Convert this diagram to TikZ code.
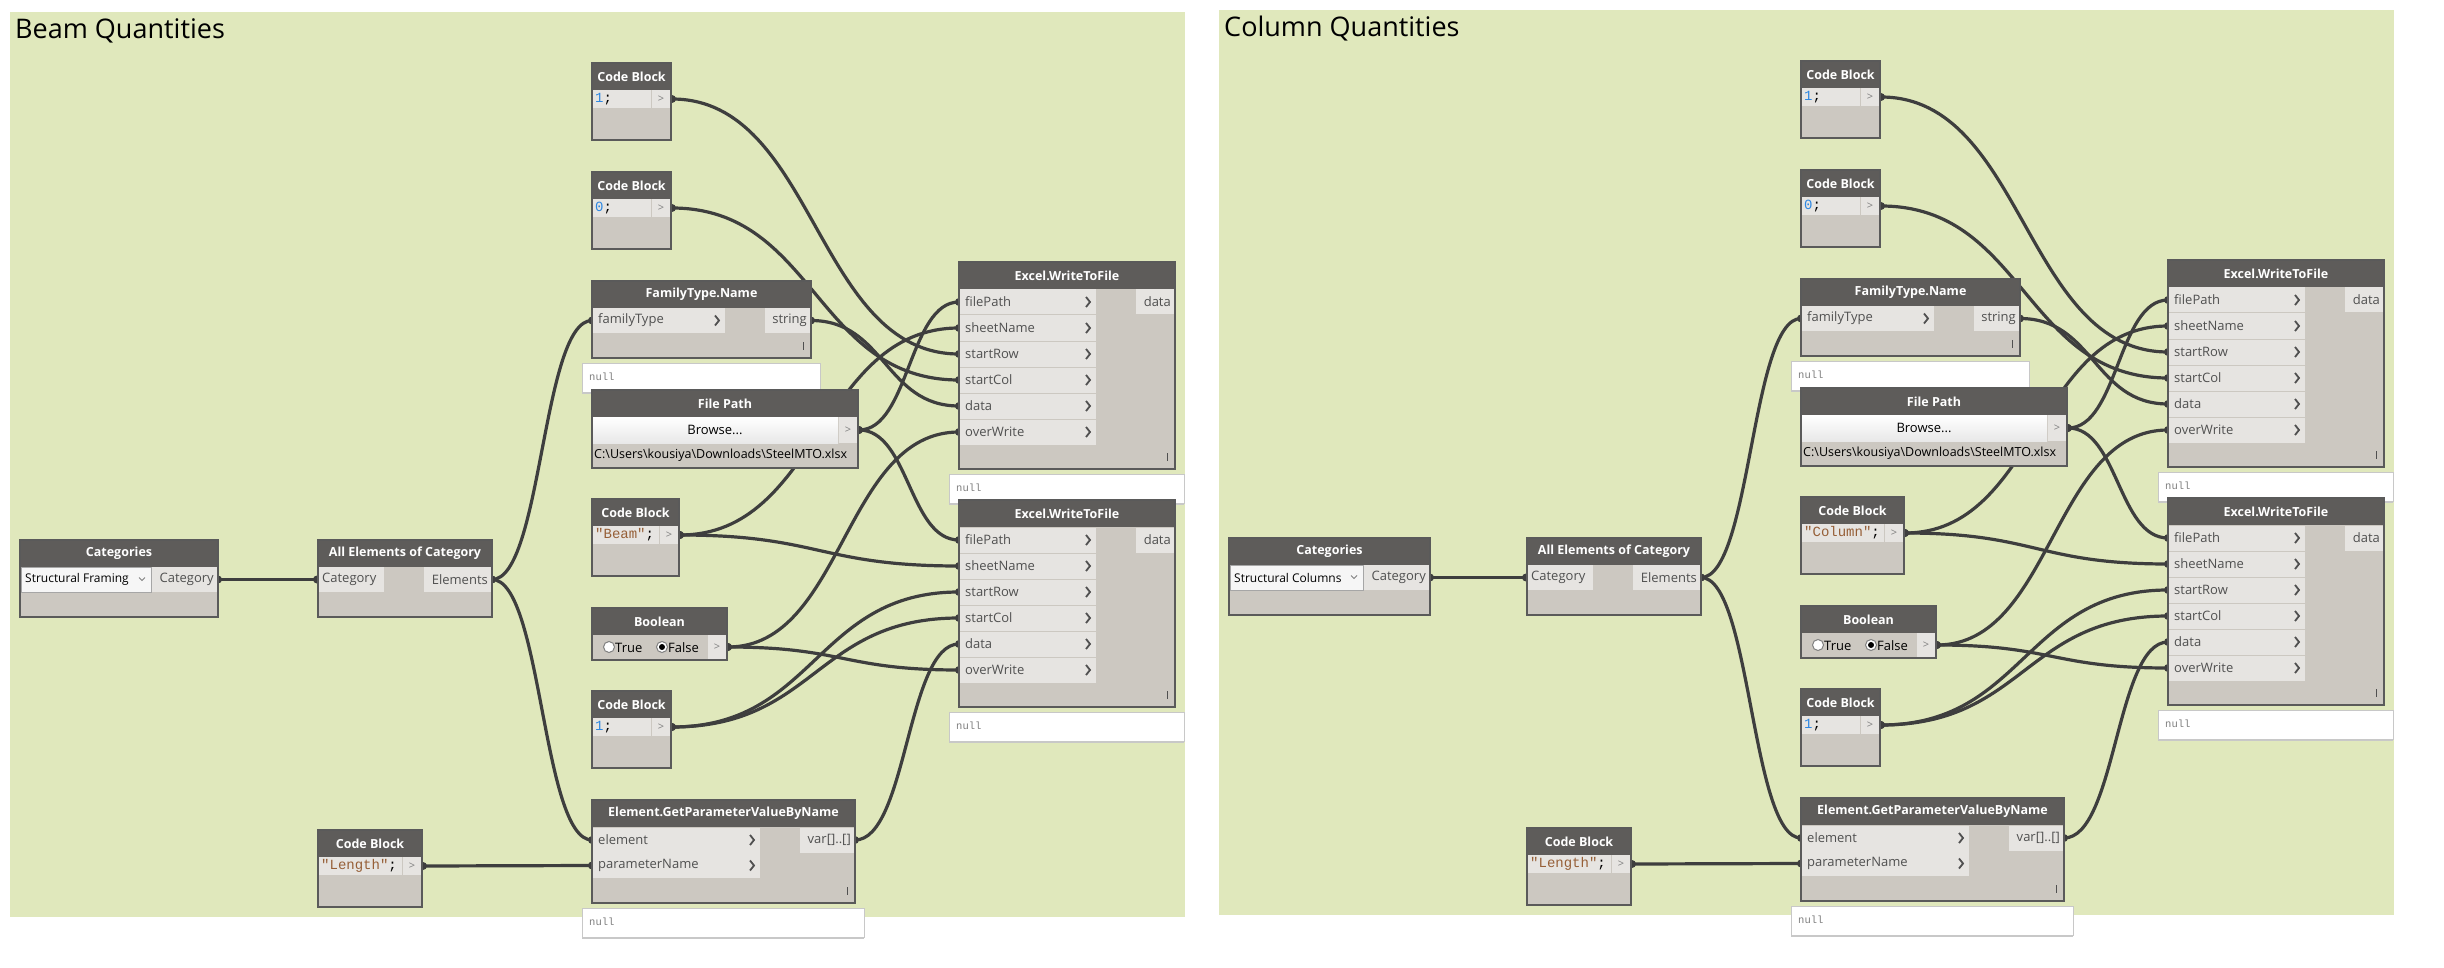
\documentclass[tikz,border=0pt]{standalone}
\usepackage{fontspec}
\setmainfont{Open Sans}
\setmonofont{Liberation Mono}
\usetikzlibrary{calc}

\definecolor{grpgreen}{RGB}{224,232,188}
\definecolor{hdrgray}{RGB}{94,92,90}
\definecolor{bodygray}{RGB}{204,200,193}
\definecolor{cellgray}{RGB}{230,228,225}
\definecolor{framegray}{RGB}{90,90,90}
\definecolor{wiregray}{RGB}{62,62,62}
\definecolor{lblgray}{RGB}{80,80,80}
\definecolor{numblue}{RGB}{45,135,225}
\definecolor{strbrown}{RGB}{150,95,55}
\definecolor{nullborder}{RGB}{200,200,200}

\pgfdeclarelayer{bg}
\pgfdeclarelayer{wires}
\pgfsetlayers{bg,wires,main}

\tikzset{
  grptitle/.style={text=black, font=\fontsize{27}{30}\selectfont, inner sep=0pt},
  hdrtxt/.style={text=white, font=\fontsize{12.5}{14}\selectfont\bfseries, inner sep=0pt},
  lbl/.style={text=lblgray, font=\fontsize{13}{15}\selectfont, inner sep=0pt},
  blacktxt/.style={text=black, font=\fontsize{13}{15}\selectfont, inner sep=0pt},
  droptxt/.style={text=black, font=\fontsize{12}{14}\selectfont, inner sep=0pt},
  code/.style={text=black, font=\fontsize{14}{16}\selectfont\ttfamily, inner sep=0pt},
  nulltxt/.style={text=gray, font=\fontsize{10.5}{12}\selectfont\ttfamily, inner sep=0pt},
  gt/.style={text=gray, font=\fontsize{11}{12}\selectfont, inner sep=0pt},
  nodeframe/.style={draw=framegray, line width=1.5pt},
  chev/.style={draw=lblgray, line width=1.8pt},
  wire/.style={draw=wiregray, line width=3.2pt},
  gripline/.style={draw=lblgray, line width=1pt},
  dropbox/.style={fill=white!93!gray, draw=gray!70, line width=1pt},
  radio/.style={fill=white, draw=gray, line width=1pt}
}

% one Dynamo node: name, x1, x2, top, bottom, title
\newcommand\dynnode[6]{%
  \fill[bodygray] (#2,#4) rectangle (#3,#5);
  \fill[hdrgray] (#2,#4) rectangle (#3,#4+27);
  \node[hdrtxt] (#1) at ({(#2+#3)/2},#4+13.5) {#6};
  \draw[nodeframe] (#2,#4) rectangle (#3,#5);
}
% input port: name, x1, x2, y, label
\newcommand\inport[5]{%
  \fill[cellgray] (#2,#4-12.5) rectangle (#3,#4+12.5);
  \node[lbl, anchor=west] at (#2+5,#4) {#5};
  \draw[chev] (#3-10,#4-5) -- (#3-6,#4) -- (#3-10,#4+5);
  \coordinate (#1) at (#2-1,#4);
}
% output port: name, x1, x2, y, label
\newcommand\outport[5]{%
  \fill[cellgray] (#2,#4-12.5) rectangle (#3,#4+12.5);
  \node[lbl, anchor=east] at (#3-3,#4) {#5};
  \coordinate (#1) at (#3+1,#4);
}
% code block: name, x1, x2, top, code
\newcommand\codeblock[5]{%
  \dynnode{#1}{#2}{#3}{#4}{#4+77}{Code Block}
  \fill[cellgray] (#2+1,#4+27) rectangle (#3-20,#4+45);
  \fill[cellgray] (#3-19,#4+27) rectangle (#3-1,#4+45);
  \node[code, anchor=west] at (#2+3,#4+36) {#5};
  \node[gt] at (#3-10,#4+36) {>};
  \coordinate (#1-out) at (#3+1,#4+36);
}
% preview bubble: name, x1, x2, top
\newcommand\nullbox[4]{%
  \filldraw[fill=white, draw=nullborder, line width=1pt] (#2,#4) rectangle (#3,#4+29);
  \draw[nullborder, line width=2pt] (#2,#4+30) -- (#3,#4+30);
  \node[nulltxt, anchor=west] (#1) at (#2+7,#4+14) {null};
}
\newcommand\grip[2]{\draw[gripline] (#1,#2-8) -- (#1,#2);}
% Excel.WriteToFile: name, top
\newcommand\excelnode[2]{%
  \dynnode{#1}{959}{1175}{#2}{#2+207}{Excel.WriteToFile}
  \inport{#1-fp}{960}{1096}{#2+40}{filePath}
  \inport{#1-sn}{960}{1096}{#2+66}{sheetName}
  \inport{#1-sr}{960}{1096}{#2+92}{startRow}
  \inport{#1-sc}{960}{1096}{#2+118}{startCol}
  \inport{#1-dt}{960}{1096}{#2+144}{data}
  \inport{#1-ow}{960}{1096}{#2+170}{overWrite}
  \outport{#1-out}{1136}{1174}{#2+40}{data}
  \grip{1167}{#2+199}
}
% connector with horizontal tangents
\newcommand\wire[2]{%
  \draw[wire] let \p1=(#1), \p2=(#2), \n1={0.5*(\x2-\x1)} in
    (#1) .. controls +(\n1,0) and +(-\n1,0) .. (#2);
  \fill[wiregray] (#1) circle[radius=4pt];
  \fill[wiregray] (#2) circle[radius=4pt];
}

% one group: prefix, shift, title, category, dropdown right, categories right, sheet code, sheet block right
\newcommand\quantgroup[8]{%
  \begin{scope}[shift={(#2)}]
    \begin{pgfonlayer}{bg}
      \fill[grpgreen] (10,12) rectangle (1185,917);
    \end{pgfonlayer}
    \node[grptitle, anchor=base west] (#1title) at (15,39) {#3};
    % Categories
    \dynnode{#1cat}{20}{#6}{540}{617}{Categories}
    \filldraw[dropbox] (21,567) rectangle (#5,592);
    \node[droptxt, anchor=west] at (25,579.5) {#4};
    \draw[gray, line width=0.8pt] (#5-12,577.5) -- (#5-9,580.5) -- (#5-6,577.5);
    \outport{#1cat-out}{#5+1}{#6-1}{579.5}{Category}
    % All Elements of Category
    \dynnode{#1all}{318}{492}{540}{617}{All Elements of Category}
    \fill[cellgray] (319,567) rectangle (384,592);
    \node[lbl, anchor=west] at (322,579.5) {Category};
    \coordinate (#1all-in) at (317,579.5);
    \outport{#1all-out}{424}{491}{579.5}{Elements}
    % code blocks
    \codeblock{#1cbA}{592}{671}{63}{{\color{numblue}1};}
    \codeblock{#1cbB}{592}{671}{172}{{\color{numblue}0};}
    \codeblock{#1cbS}{592}{#8}{499}{{\color{strbrown}"#7"};}
    \codeblock{#1cbR}{592}{671}{691}{{\color{numblue}1};}
    \codeblock{#1cbL}{318}{422}{830}{{\color{strbrown}"Length"};}
    % FamilyType.Name
    \dynnode{#1ftn}{592}{811}{281}{358}{FamilyType.Name}
    \inport{#1ftn-in}{593}{725}{320.5}{familyType}
    \outport{#1ftn-out}{765}{810}{320.5}{string}
    \grip{803}{350}
    \nullbox{#1ftn-null}{582}{820}{363}
    % File Path
    \dynnode{#1fp}{592}{858}{390}{468}{File Path}
    \shade[top color=white, bottom color=gray!18] (593,417) rectangle (838,443);
    \node[blacktxt] at (715,430) {Browse...};
    \fill[cellgray] (839,417) rectangle (857,443);
    \node[gt] at (848,430) {>};
    \node[blacktxt, anchor=west, font=\fontsize{12.5}{14}\selectfont] at (594,455.5)
      {C:\textbackslash Users\textbackslash kousiya\textbackslash Downloads\textbackslash SteelMTO.xlsx};
    \coordinate (#1fp-out) at (859,430);
    % Boolean
    \dynnode{#1bool}{592}{727}{608}{660}{Boolean}
    \filldraw[radio] (609,647) circle[radius=5.5pt];
    \node[blacktxt, anchor=west] at (615,648) {True};
    \filldraw[radio] (662,647) circle[radius=5.5pt];
    \fill[black] (662,647) circle[radius=3pt];
    \node[blacktxt, anchor=west] at (668,648) {False};
    \fill[cellgray] (708,635) rectangle (726,659);
    \node[gt] at (717,647) {>};
    \coordinate (#1bool-out) at (728,647);
    % Element.GetParameterValueByName
    \dynnode{#1gp}{592}{855}{800}{903}{Element.GetParameterValueByName}
    \inport{#1gp-el}{593}{760}{840}{element}
    \inport{#1gp-pn}{593}{760}{865.5}{parameterName}
    \outport{#1gp-out}{800}{854}{840}{var[]..[]}
    \grip{847}{895}
    \nullbox{#1gp-null}{582}{864}{908}
    % Excel.WriteToFile
    \excelnode{#1exA}{262}
    \nullbox{#1exA-null}{949}{1184}{474}
    \excelnode{#1exB}{500}
    \nullbox{#1exB-null}{949}{1184}{712}
  \end{scope}
}
\newcommand\quantwires[1]{%
  \begin{pgfonlayer}{wires}
    \wire{#1cat-out}{#1all-in}
    \wire{#1all-out}{#1ftn-in}
    \wire{#1all-out}{#1gp-el}
    \wire{#1cbL-out}{#1gp-pn}
    \wire{#1gp-out}{#1exB-dt}
    \wire{#1ftn-out}{#1exA-dt}
    \wire{#1cbA-out}{#1exA-sr}
    \wire{#1cbB-out}{#1exA-sc}
    \wire{#1fp-out}{#1exA-fp}
    \wire{#1fp-out}{#1exB-fp}
    \wire{#1cbS-out}{#1exA-sn}
    \wire{#1cbS-out}{#1exB-sn}
    \wire{#1bool-out}{#1exA-ow}
    \wire{#1bool-out}{#1exB-ow}
    \wire{#1cbR-out}{#1exB-sr}
    \wire{#1cbR-out}{#1exB-sc}
  \end{pgfonlayer}
}

\begin{document}
\begin{tikzpicture}[x=1pt, y=-1pt]
  \useasboundingbox (0,0) rectangle (2444,968);
  \begin{pgfonlayer}{bg}
    \fill[white] (0,0) rectangle (2444,968);
  \end{pgfonlayer}
  \quantgroup{B}{0,0}{Beam Quantities}{Structural Framing}{151}{218}{Beam}{679}
  \quantgroup{C}{1209,-2}{Column Quantities}{Structural Columns}{154}{221}{Column}{695}
  \quantwires{B}
  \quantwires{C}
\end{tikzpicture}
\end{document}
